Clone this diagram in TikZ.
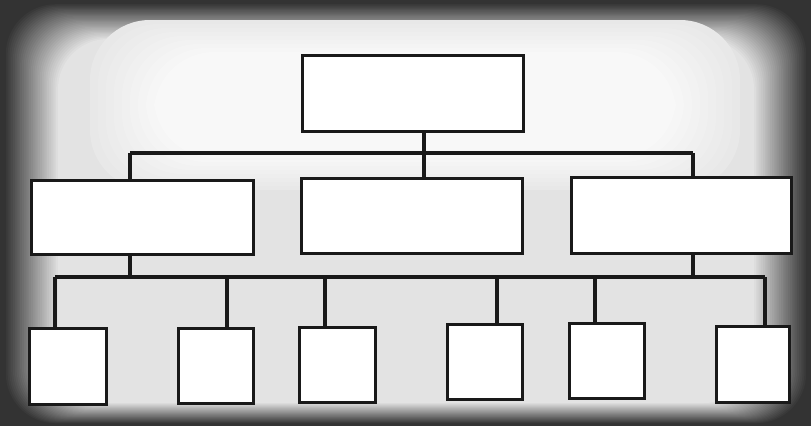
\documentclass[tikz,border=0pt]{standalone}
\begin{document}
\begin{tikzpicture}[x=1pt,y=-1pt,
  box/.style={draw=black!90, line width=2.8pt, fill=white, anchor=north west, inner sep=0pt},
  conn/.style={draw=black!90, line width=3.2pt}]
\useasboundingbox (0,0) rectangle (811,426);
% vignette background
\fill[black!80] (0,0) rectangle (811,426);
\foreach \i in {0,...,30}{
  \pgfmathsetmacro{\p}{20+2.3*\i}
  \fill[white!\p!black, rounded corners=50pt] (4+\i*1.8,3+\i*1.2) rectangle (808-\i*1.8,424-\i*0.7);
}
\foreach \i in {0,...,8}{
  \pgfmathsetmacro{\p}{91+0.8*\i}
  \fill[white!\p!black, rounded corners=60pt] (90+\i*8,20+\i*4) rectangle (740-\i*8,190-\i*4);
}
% boxes
\node[box, minimum width=221pt, minimum height=76pt] (top) at (301,54) {};
\node[box, minimum width=222pt, minimum height=74pt] (L) at (30,179) {};
\node[box, minimum width=221pt, minimum height=75pt] (M) at (300,177) {};
\node[box, minimum width=220pt, minimum height=76pt] (R) at (570,176) {};
\node[box, minimum width=77pt, minimum height=76pt] (b1) at (28,327) {};
\node[box, minimum width=75pt, minimum height=75pt] (b2) at (177,327) {};
\node[box, minimum width=76pt, minimum height=75pt] (b3) at (298,326) {};
\node[box, minimum width=75pt, minimum height=75pt] (b4) at (446,323) {};
\node[box, minimum width=75pt, minimum height=75pt] (b5) at (568,322) {};
\node[box, minimum width=73pt, minimum height=76pt] (b6) at (715,325) {};
% junction coordinates
\coordinate (c0) at (424,153);
\coordinate (bl) at (130,153);
\coordinate (br) at (693,153);
\coordinate (dl) at (130,277);
\coordinate (dr) at (693,277);
\coordinate (e1) at (55,277);
\coordinate (e2) at (227,277);
\coordinate (e3) at (325,277);
\coordinate (e4) at (497,277);
\coordinate (e5) at (595,277);
\coordinate (e6) at (765,277);
% connectors
\draw[conn] (c0 |- top.south) -- (c0 |- M.north);
\draw[conn] (bl) -- (br);
\draw[conn] (bl) -- (bl |- L.north);
\draw[conn] (br) -- (br |- R.north);
\draw[conn] (dl |- L.south) -- (dl);
\draw[conn] (dr |- R.south) -- (dr);
\draw[conn] (e1) -- (e6);
\draw[conn] (e1) -- (e1 |- b1.north);
\draw[conn] (e2) -- (e2 |- b2.north);
\draw[conn] (e3) -- (e3 |- b3.north);
\draw[conn] (e4) -- (e4 |- b4.north);
\draw[conn] (e5) -- (e5 |- b5.north);
\draw[conn] (e6) -- (e6 |- b6.north);
\end{tikzpicture}
\end{document}
